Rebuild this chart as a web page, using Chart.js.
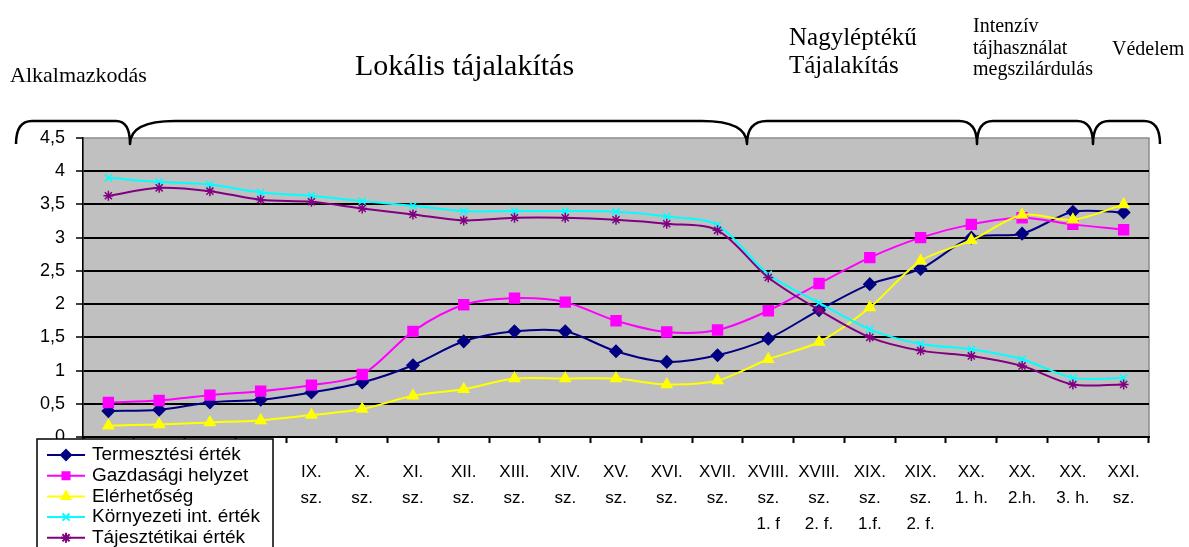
<!DOCTYPE html>
<html lang="hu">
<head>
<meta charset="utf-8">
<title>Tájhasználati értékek</title>
<script src="https://cdn.jsdelivr.net/npm/chart.js@4.4.1/dist/chart.umd.min.js"></script>
<style>
  html, body { margin: 0; padding: 0; background: #fff; }
  #wrap { width: 1189px; height: 547px; position: relative; }
</style>
</head>
<body>
<div id="wrap"><canvas id="tajChart"></canvas></div>
<script>
// periods on the x axis (the first four sit under the legend box)
const periods = [
  "", "", "", "",
  ["IX.", "sz."], ["X.", "sz."], ["XI.", "sz."], ["XII.", "sz."],
  ["XIII.", "sz."], ["XIV.", "sz."], ["XV.", "sz."], ["XVI.", "sz."],
  ["XVII.", "sz."], ["XVIII.", "sz.", "1. f"], ["XVIII.", "sz.", "2. f."],
  ["XIX.", "sz.", "1.f."], ["XIX.", "sz.", "2. f."],
  ["XX.", "1. h."], ["XX.", "2.h."], ["XX.", "3. h."], ["XXI.", "sz."]
];

const termesztesi   = [0.39, 0.41, 0.52, 0.56, 0.67, 0.82, 1.08, 1.44, 1.59, 1.59, 1.29, 1.13, 1.23, 1.48, 1.91, 2.30, 2.53, 3.00, 3.06, 3.39, 3.38];
const gazdasagi     = [0.52, 0.55, 0.63, 0.69, 0.78, 0.94, 1.59, 1.99, 2.09, 2.03, 1.75, 1.58, 1.61, 1.90, 2.31, 2.70, 3.00, 3.20, 3.30, 3.20, 3.12];
const elerhetoseg   = [0.17, 0.19, 0.22, 0.25, 0.33, 0.42, 0.62, 0.72, 0.88, 0.88, 0.88, 0.79, 0.85, 1.17, 1.43, 1.95, 2.65, 2.96, 3.34, 3.27, 3.50];
const kornyezeti    = [3.90, 3.84, 3.80, 3.68, 3.63, 3.55, 3.48, 3.40, 3.40, 3.40, 3.39, 3.32, 3.19, 2.45, 2.02, 1.62, 1.40, 1.32, 1.17, 0.89, 0.89];
const tajesztetikai = [3.63, 3.75, 3.70, 3.57, 3.54, 3.44, 3.35, 3.26, 3.30, 3.30, 3.27, 3.21, 3.11, 2.40, 1.91, 1.50, 1.30, 1.22, 1.07, 0.79, 0.79];

const yTicks = [0, 0.5, 1, 1.5, 2, 2.5, 3, 3.5, 4, 4.5];

// phase headings above the braces
const phaseAlk = ["Alkalmazkodás"];
const phaseLok = ["Lokális tájalakítás"];
const phaseNagy = ["Nagyléptékű", "Tájalakítás"];
const phaseInt = ["Intenzív", "tájhasználat", "megszilárdulás"];
const phaseVed = ["Védelem"];

const SANS = "'Liberation Sans', Arial, sans-serif";
const SERIF = "'Liberation Serif', 'Times New Roman', serif";

function series(label, data, color, style, radius, order) {
  return {
    label: label,
    data: data,
    borderColor: color,
    backgroundColor: color,
    borderWidth: 2,
    pointStyle: style,
    pointRadius: radius,
    pointHoverRadius: radius,
    pointBorderWidth: 1.5,
    pointBorderColor: color,
    pointBackgroundColor: color,
    tension: 0.3,
    order: order
  };
}

// grey plot area with a thin frame
const plotBg = {
  id: "plotBg",
  beforeDraw(chart) {
    const { ctx, chartArea: a } = chart;
    ctx.save();
    ctx.fillStyle = "#c0c0c0";
    ctx.fillRect(a.left, a.top, a.right - a.left, a.bottom - a.top);
    ctx.strokeStyle = "#8c8c8c";
    ctx.lineWidth = 1.5;
    ctx.strokeRect(a.left, a.top, a.right - a.left, a.bottom - a.top);
    ctx.restore();
  }
};

// braces and phase headings over the plot
const phases = {
  id: "phases",
  afterDraw(chart) {
    const ctx = chart.ctx;
    ctx.save();
    ctx.strokeStyle = "#000";
    ctx.lineWidth = 2.5;
    ctx.lineJoin = "round";
    const top = 121, tip = 144;
    ctx.beginPath();
    ctx.moveTo(16, tip);
    ctx.quadraticCurveTo(16, top, 32, top);
    [[130, 14, 45], [747, 45, 20], [977, 18, 16], [1093, 16, 16]].forEach(([x, wl, wr]) => {
      ctx.lineTo(x - wl, top);
      ctx.quadraticCurveTo(x, top, x, tip);
      ctx.quadraticCurveTo(x, top, x + wr, top);
    });
    ctx.lineTo(1144, top);
    ctx.quadraticCurveTo(1160, top, 1160, tip);
    ctx.stroke();

    ctx.fillStyle = "#000";
    ctx.textBaseline = "alphabetic";
    ctx.textAlign = "left";
    const put = (lines, x, y0, size, gap) => {
      ctx.font = size + "px " + SERIF;
      lines.forEach((t, i) => ctx.fillText(t, x, y0 + i * gap));
    };
    put(phaseAlk, 10, 82, 22, 0);
    put(phaseLok, 355, 75, 30, 0);
    put(phaseNagy, 789, 45, 25, 28);
    put(phaseInt, 973, 32, 20, 21.5);
    put(phaseVed, 1112, 55, 20, 0);
    ctx.restore();
  }
};

// boxed legend laid over the lower left corner
const boxLegend = {
  id: "boxLegend",
  afterDraw(chart) {
    const ctx = chart.ctx;
    ctx.save();
    ctx.fillStyle = "#fff";
    ctx.fillRect(37, 439, 236, 120);
    ctx.strokeStyle = "#000";
    ctx.lineWidth = 1.5;
    ctx.strokeRect(37, 439, 236, 120);
    ctx.font = "19px " + SANS;
    ctx.textBaseline = "middle";
    chart.data.datasets.forEach((ds, i) => {
      const y = 455 + i * 20.7;
      ctx.strokeStyle = ds.borderColor;
      ctx.lineWidth = 2;
      ctx.beginPath();
      ctx.moveTo(47, y);
      ctx.lineTo(85, y);
      ctx.stroke();
      ctx.fillStyle = ds.borderColor;
      Chart.helpers.drawPoint(ctx, {
        pointStyle: ds.pointStyle,
        radius: Math.min(ds.pointRadius, 5),
        borderWidth: 1.5,
        rotation: 0
      }, 66, y);
      ctx.fillStyle = "#000";
      ctx.fillText(ds.label, 92, y);
    });
    ctx.restore();
  }
};

new Chart(document.getElementById("tajChart"), {
  type: "line",
  data: {
    labels: periods,
    datasets: [
      series("Termesztési érték", termesztesi, "#000080", "rectRot", 6, 5),
      series("Gazdasági helyzet", gazdasagi, "#ff00ff", "rect", 7, 4),
      series("Elérhetőség", elerhetoseg, "#ffff00", "triangle", 6, 3),
      series("Környezeti int. érték", kornyezeti, "#00ffff", "crossRot", 5, 2),
      series("Tájesztétikai érték", tajesztetikai, "#800080", "star", 5, 1)
    ]
  },
  options: {
    responsive: true,
    maintainAspectRatio: false,
    animation: false,
    layout: { padding: { top: 138, right: 40, left: 0, bottom: 0 } },
    plugins: {
      legend: { display: false },
      tooltip: { enabled: false }
    },
    scales: {
      x: {
        type: "category",
        offset: true,
        afterFit(scale) { scale.height = 110; },
        grid: {
          offset: true,
          drawOnChartArea: false,
          tickLength: 6,
          tickColor: "#000",
          tickWidth: 2
        },
        border: { color: "#000", width: 2 },
        ticks: {
          autoSkip: false,
          maxRotation: 0,
          minRotation: 0,
          padding: 16,
          color: "#000",
          font: { family: SANS, size: 17, lineHeight: "26px" }
        }
      },
      y: {
        min: 0,
        max: 4.5,
        afterFit(scale) { scale.width = 83; },
        afterBuildTicks(scale) { scale.ticks = yTicks.map(v => ({ value: v })); },
        grid: {
          color: c => (c.tick && c.tick.value === 4.5) ? "rgba(0,0,0,0)" : "#000",
          lineWidth: 2,
          tickLength: 7,
          tickColor: "#000",
          tickWidth: 1.5
        },
        border: { color: "#000", width: 1.5 },
        ticks: {
          padding: 11,
          color: "#000",
          font: { family: SANS, size: 18 },
          callback: v => String(v).replace(".", ",")
        }
      }
    }
  },
  plugins: [plotBg, phases, boxLegend]
});
</script>
</body>
</html>
